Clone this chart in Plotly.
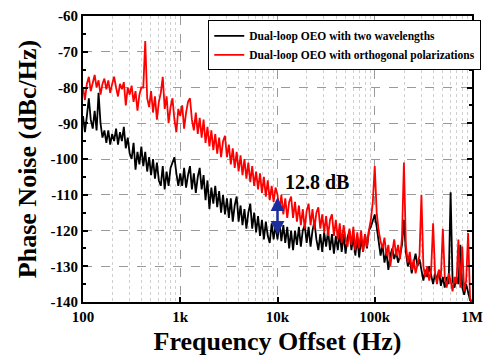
import plotly.graph_objects as go

# Sampling grid: mantissas per decade (50 points/decade), decades 100 Hz .. 100 kHz, plus 1 MHz
MANT = [1.000, 1.047, 1.096, 1.148, 1.202, 1.259, 1.318, 1.380, 1.445, 1.514,
        1.585, 1.660, 1.738, 1.820, 1.905, 1.995, 2.089, 2.188, 2.291, 2.399,
        2.512, 2.630, 2.754, 2.884, 3.020, 3.162, 3.311, 3.467, 3.631, 3.802,
        3.981, 4.169, 4.365, 4.571, 4.786, 5.012, 5.248, 5.495, 5.754, 6.026,
        6.310, 6.607, 6.918, 7.244, 7.586, 7.943, 8.318, 8.710, 9.120, 9.550]
DECADES = [100, 1000, 10000, 100000]
FREQ_HZ = [m * d for d in DECADES for m in MANT] + [1000000]

# Dual-loop OEO with orthogonal polarizations (red)
PN_ORTHO = [
    # 100 Hz - 1 kHz
    -80, -83.5, -79, -77, -81, -78.5, -76.5, -80, -78, -82,
    -79, -77.5, -80.5, -78, -81.5, -79, -77, -80, -82.5, -79,
    -80.5, -78.5, -85, -80, -82, -79.5, -84, -81, -86.5, -82,
    -80, -80, -67, -83, -85.5, -81, -87, -82.5, -89, -84,
    -81.5, -77, -86, -82.5, -90, -85.5, -83, -89, -92.5, -86,
    # 1 kHz - 10 kHz
    -88, -85, -91.5, -87, -84, -83, -89, -92, -87, -93,
    -88.5, -94, -89, -95.5, -91, -96.5, -92, -97.5, -93, -98.5,
    -94, -99.5, -95, -93.5, -99.5, -96, -101.5, -97, -102.5, -98,
    -103.5, -99, -104.5, -100, -105.5, -101, -106.5, -102, -107.5, -103.5,
    -108.5, -104, -109.5, -105, -110.5, -106, -111.5, -107.5, -112, -108,
    # 10 kHz - 100 kHz
    -110, -114.5, -110, -115.5, -111, -116.5, -112, -110.5, -116.5, -112,
    -117.5, -113, -118.5, -114, -119.5, -114.5, -112.5, -118.5, -114, -119.5,
    -115, -113.5, -119.5, -115.5, -120.5, -116, -121.5, -117, -115.5, -121.5,
    -117, -122.5, -118, -123.5, -118.5, -122.5, -124.5, -119.5, -124, -119,
    -125.5, -120.5, -125, -120, -126, -121, -124.5, -120, -117, -112,
    # 100 kHz - 1 MHz
    -102, -115, -120, -123, -125, -122, -127, -124, -130, -126,
    -122.5, -127, -124, -128, -122, -101, -124, -129, -126, -131,
    -128, -132, -129, -127, -110, -130, -133, -130, -134, -131,
    -118, -132, -135, -131, -133, -119.5, -133, -136, -132, -134,
    -137, -133, -135, -122.5, -136, -124.5, -137, -134, -120.7, -139,
    -140,
]

# Dual-loop OEO with two wavelengths (black)
PN_TWO_WL = [
    # 100 Hz - 1 kHz
    -88, -92.5, -88, -83, -89, -91.5, -86.5, -92, -81.5, -90,
    -94, -92, -95.5, -92, -96, -93, -95, -91.5, -96, -92.5,
    -95, -91, -97, -94, -98.5, -100, -95.5, -103, -98, -101.5,
    -96.5, -102, -98, -103.5, -99.5, -104.5, -100, -105.5, -101, -106,
    -107.5, -102, -108.5, -103.5, -107.5, -102.5, -101, -99.5, -104, -107.5,
    # 1 kHz - 10 kHz
    -104, -107.5, -102.5, -108, -104.5, -102, -108.5, -104, -109.5, -105,
    -102.5, -108.5, -104.5, -111.5, -106, -114, -108, -112.5, -107.5, -113.5,
    -109, -115, -110, -115.5, -111, -116.5, -111, -117.5, -113, -110.5,
    -117.5, -113, -118.5, -114, -119.5, -115, -112.5, -119.5, -115, -120.5,
    -116, -121.5, -117, -122.5, -117.5, -121.5, -123.5, -118, -122.5, -118.5,
    # 10 kHz - 100 kHz
    -122.5, -117.5, -123, -118.5, -123.5, -119, -125, -120, -125.5, -120,
    -124, -119, -124.5, -120, -118.5, -123.5, -119, -124.5, -120, -117.5,
    -122.5, -125.5, -121, -126, -120.5, -124.5, -120, -125.5, -121, -126.5,
    -121.5, -125.5, -120.5, -126, -121, -126.5, -122, -120, -125.5, -121.5,
    -127, -122, -127.5, -122, -126, -121, -125, -120, -119, -117.5,
    # 100 kHz - 1 MHz
    -115.5, -119, -123, -127, -124, -129, -126, -131, -127, -125,
    -128, -126, -129, -127, -124, -117, -126, -130, -128, -132,
    -129, -126.5, -130, -128, -131, -134, -131, -133, -130, -132.5,
    -135, -132, -134, -131, -135.5, -133, -136, -133, -135, -109.3,
    -134, -136, -133, -135, -124, -136, -138, -135, -137, -139.5,
    -140,
]

X_TICKS = [100, 1000, 10000, 100000, 1000000]
X_TICKTEXT = ["100", "1k", "10k", "100k", "1M"]
X_MINOR = [m * d for d in DECADES for m in [2, 3, 4, 5, 6, 7, 8, 9]]
Y_TICKS = [-140, -130, -120, -110, -100, -90, -80, -70, -60]
Y_TICKTEXT = ["-140", "-130", "-120", "-110", "-100", "-90", "-80", "-70", "-60"]

FONT = "Times New Roman, Liberation Serif, serif"

fig = go.Figure()
fig.add_trace(go.Scatter(x=FREQ_HZ, y=PN_TWO_WL, mode="lines",
                         line=dict(color="black", width=1.8),
                         name="Dual-loop OEO with two wavelengths"))
fig.add_trace(go.Scatter(x=FREQ_HZ, y=PN_ORTHO, mode="lines",
                         line=dict(color="#ff0000", width=1.8),
                         name="Dual-loop OEO with orthogonal polarizations"))

fig.update_layout(
    width=491, height=360,
    margin=dict(l=83, r=8, t=10, b=58),
    paper_bgcolor="white", plot_bgcolor="white",
    font=dict(family=FONT, color="black"),
    legend=dict(x=0.322, y=0.985, xanchor="left", yanchor="top",
                bgcolor="white", bordercolor="black", borderwidth=1,
                font=dict(family=FONT, size=11.5, weight="bold"),
                tracegroupgap=0, itemwidth=30),
    showlegend=True,
)

fig.update_xaxes(
    type="log", range=[2, 6],
    tickvals=X_TICKS, ticktext=X_TICKTEXT,
    ticks="inside", ticklen=5, tickwidth=2, tickcolor="black",
    tickfont=dict(family=FONT, size=15, weight="bold"),
    showline=True, linecolor="black", linewidth=2, mirror=True,
    showgrid=True, gridcolor="#9a9a9a", griddash="dash", gridwidth=1,
    minor=dict(tickvals=X_MINOR, showgrid=True, gridcolor="#cfcfcf",
               griddash="dot", gridwidth=1, ticks=""),
    zeroline=False,
    title=dict(text="Frequency Offset (Hz)", standoff=8,
               font=dict(family=FONT, size=26, weight="bold")),
)
fig.update_yaxes(
    range=[-140, -60],
    tickvals=Y_TICKS, ticktext=Y_TICKTEXT,
    ticks="inside", ticklen=5, tickwidth=2, tickcolor="black",
    tickfont=dict(family=FONT, size=15, weight="bold"),
    showline=True, linecolor="black", linewidth=2, mirror="allticks",
    showgrid=True, gridcolor="#9a9a9a", griddash="dash", gridwidth=1,
    minor=dict(dtick=5, ticks="inside", ticklen=3, tickwidth=1.5,
               tickcolor="black", showgrid=False),
    zeroline=False,
    title=dict(text="Phase Noise (dBc/Hz)", standoff=6,
               font=dict(family=FONT, size=26, weight="bold")),
)

# 12.8 dB double-headed arrow at 10 kHz
fig.add_annotation(x=4, y=-110.7, ax=4, ay=-121.6, xref="x", yref="y",
                   axref="x", ayref="y", text="", showarrow=True,
                   arrowhead=2, arrowside="end+start", arrowsize=1.1,
                   arrowwidth=2.5, arrowcolor="#1a2e9e", standoff=0,
                   startstandoff=0)
fig.add_annotation(x=4.41, y=-106.3, xref="x", yref="y", text="12.8 dB",
                   showarrow=False,
                   font=dict(family=FONT, size=20, weight="bold", color="black"))

fig.write_html("out.html")
